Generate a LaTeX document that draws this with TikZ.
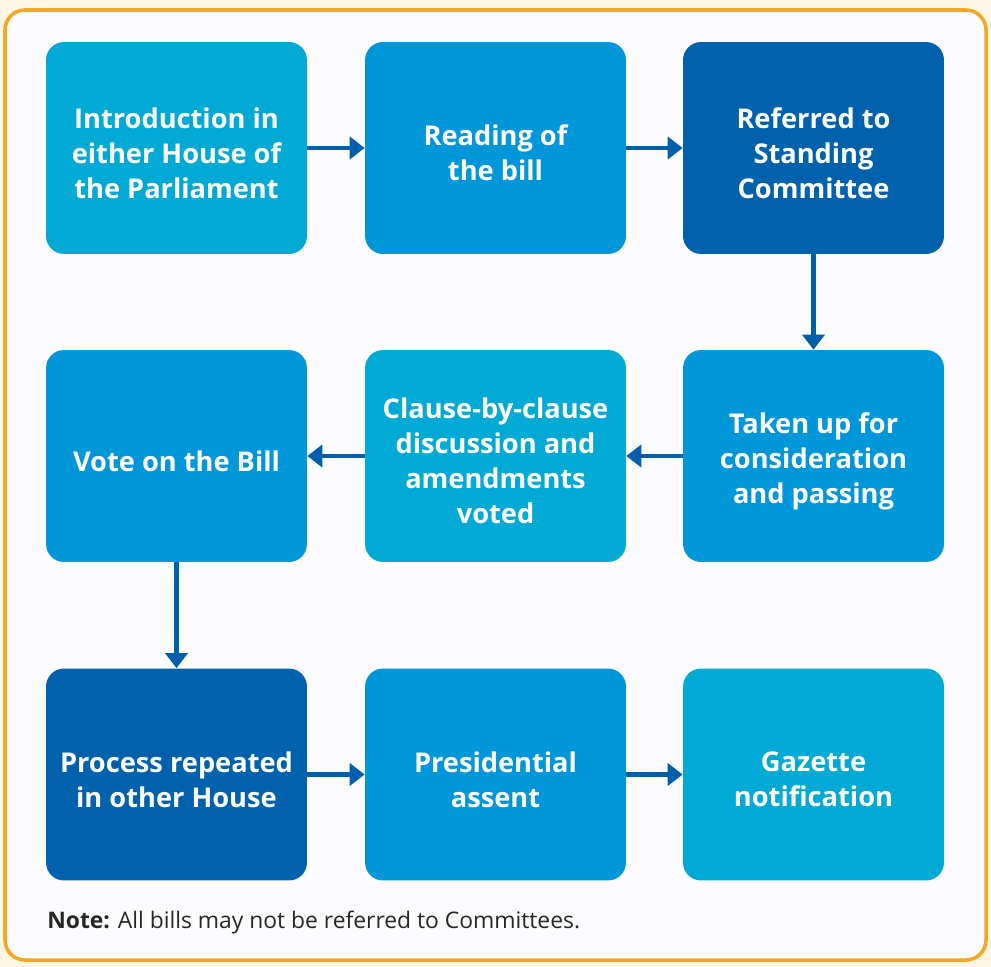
\documentclass[tikz,border=0pt]{standalone}
\usepackage{fontspec}
\setmainfont{Open Sans}
\usetikzlibrary{arrows.meta,positioning,calc}

\definecolor{cyanbox}{HTML}{00AAD4}
\definecolor{midbox}{HTML}{0096DA}
\definecolor{darkbox}{HTML}{0061AD}
\definecolor{arrowblue}{HTML}{005FAA}
\definecolor{frameorange}{HTML}{F5A623}
\definecolor{cream}{HTML}{FDF6E3}

\begin{document}
\begin{tikzpicture}[
    x=0.02cm, y=-0.02cm,
    box/.style={rounded corners=0.36cm, minimum width=5.22cm, minimum height=4.24cm},
    lbl/.style={text=white, align=center, yshift=-0.1cm, inner sep=0pt,
        font=\fontsize{15.5}{19.9}\selectfont\bfseries},
    arrow/.style={draw=arrowblue, line width=2.3pt, -{Triangle[length=0.3cm,width=0.44cm]}}
]
    % page and frame
    \fill[cream] (0,0) rectangle (991,967);
    \filldraw[fill=white!99!blue, draw=frameorange, line width=2pt, rounded corners=0.4cm] (5,10) rectangle (986,960);

    % Row 1
    \node[box, fill=cyanbox, label={[lbl]center:{Introduction in\\either House of\\the Parliament}}] (intro) at (176.5,148) {};
    \node[box, fill=midbox, label={[lbl]center:{Reading of\\the bill}}] (reading) at (495.5,148) {};
    \node[box, fill=darkbox, label={[lbl]center:{Referred to\\Standing\\Committee}}] (referred) at (813.5,148) {};

    % Row 2
    \node[box, fill=midbox, label={[lbl]center:{Vote on the Bill}}] (vote) at (176.5,456) {};
    \node[box, fill=cyanbox, label={[lbl]center:{Clause-by-clause\\discussion and\\amendments\\voted}}] (clause) at (495.5,456) {};
    \node[box, fill=midbox, label={[lbl]center:{Taken up for\\consideration\\and passing}}] (taken) at (813.5,456) {};

    % Row 3
    \node[box, fill=darkbox, label={[lbl]center:{Process repeated\\in other House}}] (repeat) at (176.5,774.5) {};
    \node[box, fill=midbox, label={[lbl]center:{Presidential\\assent}}] (assent) at (495.5,774.5) {};
    \node[box, fill=cyanbox, label={[lbl]center:{Gazette\\notification}}] (gazette) at (813.5,774.5) {};

    % Connections
    \draw[arrow] (intro) -- (reading);
    \draw[arrow] (reading) -- (referred);
    \draw[arrow] (referred) -- (taken);
    \draw[arrow] (taken) -- (clause);
    \draw[arrow] (clause) -- (vote);
    \draw[arrow] (vote) -- (repeat);
    \draw[arrow] (repeat) -- (assent);
    \draw[arrow] (assent) -- (gazette);

    % Note
    \node[anchor=base west, inner sep=0pt, text=black!85, font=\fontsize{13}{15}\selectfont] (note) at (47,928)
        {\textbf{Note:} All bills may not be referred to Committees.};
\end{tikzpicture}
\end{document}
